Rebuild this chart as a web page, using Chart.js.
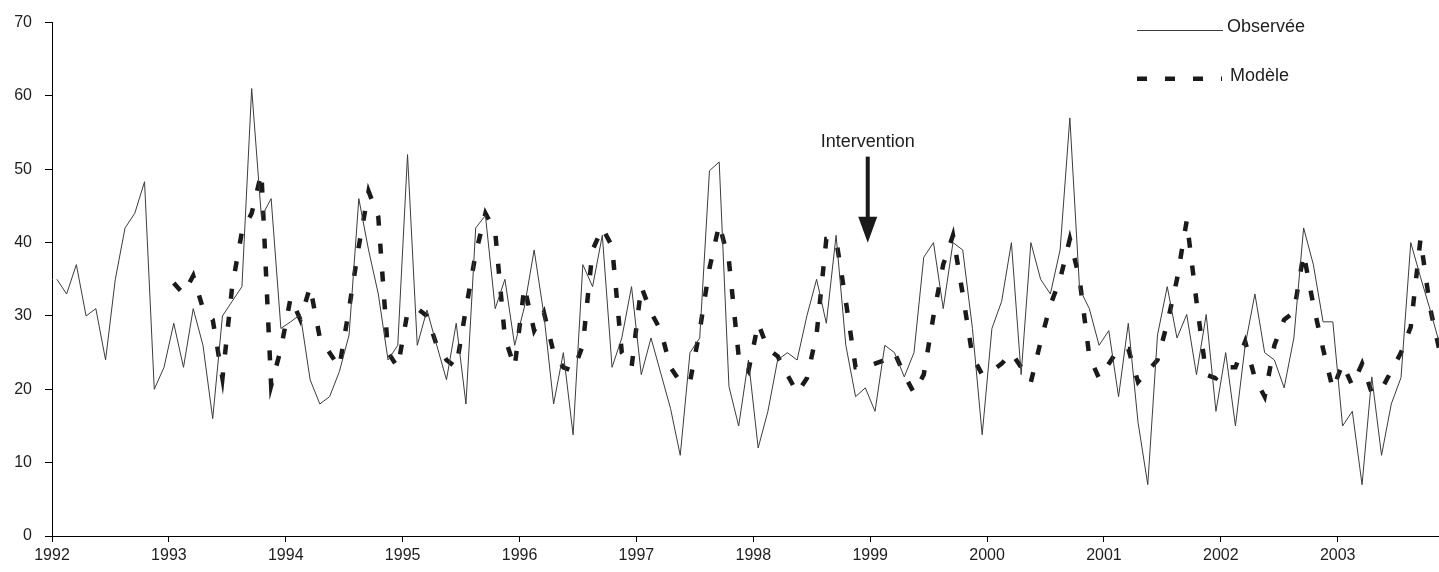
<!DOCTYPE html>
<html>
<head>
<meta charset="utf-8">
<script src="https://cdn.jsdelivr.net/npm/chart.js@4"></script>
<style>
  html, body { margin: 0; padding: 0; background: #ffffff; }
  #wrap { width: 1439px; height: 572px; position: relative; }
</style>
</head>
<body>
<div id="wrap"><canvas id="c" width="1439" height="572"></canvas></div>
<script>
// ---- Data (monthly, Jan 1992 onward) ----
const yearLabels = ['1992','1993','1994','1995','1996','1997','1998','1999','2000','2001','2002','2003'];
const yTickValues = [0, 10, 20, 30, 40, 50, 60, 70];
const observedLabel = 'Observée';
const modelLabel = 'Modèle';

// Observed series, starting January 1992
const observed = [
  35, 33, 37, 30, 31, 24, 35, 42, 44, 48.3, 20, 23,           // 1992
  29, 23, 31, 26, 16, 30, 32, 34, 61, 43.5, 46, 28.3,         // 1993
  29.2, 30.2, 21.3, 18, 19, 22.4, 27.4, 46, 39, 33, 24, 26,   // 1994
  52, 26, 30.8, 26, 21.3, 29, 18, 42, 43.7, 31, 35, 26,       // 1995
  31.2, 39, 30.2, 18, 25, 13.8, 37, 34, 41, 23, 27, 34,       // 1996
  22, 27, 22.2, 17.4, 11, 25, 27, 49.8, 51, 20.4, 15, 24,     // 1997
  12, 17, 24, 25, 24, 30, 35, 29, 41, 26, 19, 20.2,           // 1998
  17, 26, 25, 21.7, 25, 38, 40, 31, 40, 39, 28.3, 13.8,       // 1999
  28.3, 32, 40, 22, 40, 35, 33, 39, 57, 33.7, 31, 26,         // 2000
  28, 19, 29, 15.5, 7, 27.4, 34, 27, 30.2, 22, 30.2, 17,      // 2001
  25, 15, 26, 33, 25, 24, 20.2, 27, 42, 37, 29.2, 29.2,       // 2002
  15, 17, 7, 21.7, 11, 18, 21.6, 40, 35.3, 30.8, 26           // 2003
];

// Model series, starting January 1993
const modelStartMonth = 12;
const model = [
  34.5, 33, 35.5, 31, 29.5, 21.5, 34, 41.5, 44, 49.5, 20.5, 25.5,   // 1993
  32.5, 29.5, 34, 27, 25, 23, 31, 39.5, 47, 43.5, 25, 23,           // 1994
  30.5, 31, 30, 26, 24, 23, 31, 38.5, 44, 41.5, 27, 23,             // 1995
  34, 28, 30.5, 25, 23, 22.5, 26, 39, 42, 39.5, 25, 23,             // 1996
  34, 30.5, 28, 23, 21, 21, 28, 36.5, 42.5, 37.5, 24.5, 22.5,       // 1997
  29, 25.5, 24.5, 22, 19.5, 21.5, 27.5, 40.5, 40.5, 32, 23, 23,     // 1998
  23.5, 24, 25, 22, 19.5, 22, 30, 37, 41, 33, 24.5, 22,             // 1999
  22.5, 23.5, 25, 23, 21, 26.5, 31.5, 35, 40.5, 35, 24.5, 21.5,     // 2000
  23.5, 25.5, 25.5, 21, 22.5, 24, 29, 35, 43, 32, 22, 21.5,         // 2001
  23, 23, 26.5, 21.5, 19, 26, 29.5, 30.5, 38.5, 31.5, 25.5, 20,     // 2002
  23.5, 20.5, 23.5, 19.5, 20, 22.5, 25, 28.5, 40.5, 31, 25          // 2003
];

const interventionMonth = 83.75;   // around the turn of 1998/1999
const interventionTipValue = 40;
const interventionText = 'Intervention';

// ---- Build library data from the arrays ----
const observedPoints = observed.map((v, i) => ({ x: i + 0.5, y: v }));
const modelPoints = model.map((v, i) => ({ x: modelStartMonth + i + 0.5, y: v }));

const FONT = "'Liberation Sans', Arial, Helvetica, sans-serif";
const TEXT = '#1e1e1e';

const overlayPlugin = {
  id: 'overlay',
  afterDatasetsDraw(chart) {
    const ctx = chart.ctx;
    const xs = chart.scales.x, ys = chart.scales.y;
    const dsObs = chart.data.datasets[0], dsMod = chart.data.datasets[1];

    // Legend
    ctx.save();
    ctx.font = '18px ' + FONT;
    ctx.fillStyle = TEXT;
    ctx.textBaseline = 'alphabetic';
    ctx.textAlign = 'left';
    ctx.beginPath();
    ctx.strokeStyle = dsObs.borderColor;
    ctx.lineWidth = dsObs.borderWidth;
    ctx.moveTo(1137, 30.5);
    ctx.lineTo(1223, 30.5);
    ctx.stroke();
    ctx.fillText(dsObs.label, 1227, 32);
    ctx.beginPath();
    ctx.strokeStyle = dsMod.borderColor;
    ctx.lineWidth = dsMod.borderWidth;
    ctx.setLineDash(dsMod.borderDash);
    ctx.moveTo(1137, 78.7);
    ctx.lineTo(1222, 78.7);
    ctx.stroke();
    ctx.setLineDash([]);
    ctx.fillText(dsMod.label, 1230, 81);

    // Intervention arrow
    const ax = xs.getPixelForValue(interventionMonth);
    const tipY = ys.getPixelForValue(interventionTipValue);
    const headH = 26, headW = 19, shaftLen = 60, shaftW = 4;
    ctx.fillStyle = '#1a1a1a';
    ctx.fillRect(ax - shaftW / 2, tipY - headH - shaftLen, shaftW, shaftLen + 1);
    ctx.beginPath();
    ctx.moveTo(ax - headW / 2, tipY - headH);
    ctx.lineTo(ax + headW / 2, tipY - headH);
    ctx.lineTo(ax, tipY);
    ctx.closePath();
    ctx.fill();
    ctx.fillStyle = TEXT;
    ctx.textAlign = 'center';
    ctx.fillText(interventionText, ax, tipY - headH - shaftLen - 10);
    ctx.restore();
  }
};

new Chart(document.getElementById('c'), {
  type: 'line',
  data: {
    datasets: [
      {
        label: observedLabel,
        data: observedPoints,
        borderColor: '#3c3c3c',
        borderWidth: 1,
        pointRadius: 0,
        tension: 0,
        fill: false
      },
      {
        label: modelLabel,
        data: modelPoints,
        borderColor: '#1a1a1a',
        borderWidth: 4.5,
        borderDash: [10, 18],
        borderCapStyle: 'butt',
        pointRadius: 0,
        tension: 0,
        fill: false
      }
    ]
  },
  options: {
    responsive: false,
    devicePixelRatio: 1,
    animation: false,
    events: [],
    layout: { padding: { top: 18, right: 0, bottom: 0, left: 0 } },
    plugins: { legend: { display: false }, tooltip: { enabled: false } },
    scales: {
      x: {
        type: 'linear',
        min: 0,
        max: 142.4,
        afterBuildTicks(scale) {
          scale.ticks = yearLabels.map((_, k) => ({ value: k * 12 }));
        },
        afterFit(scale) { scale.height = 36; },
        ticks: {
          autoSkip: false,
          maxRotation: 0,
          padding: 4,
          color: TEXT,
          font: { family: FONT, size: 16 },
          callback: (v) => yearLabels[Math.round(v / 12)]
        },
        grid: { display: true, drawOnChartArea: false, drawTicks: true, tickLength: 6, color: '#000', lineWidth: 1 },
        border: { display: true, color: '#000', width: 1 }
      },
      y: {
        type: 'linear',
        min: 0,
        max: 70,
        afterBuildTicks(scale) {
          scale.ticks = yTickValues.map(v => ({ value: v }));
        },
        afterFit(scale) { scale.width = 52; },
        ticks: {
          padding: 13,
          color: TEXT,
          font: { family: FONT, size: 16 }
        },
        grid: { display: true, drawOnChartArea: false, drawTicks: true, tickLength: 7, color: '#000', lineWidth: 1 },
        border: { display: true, color: '#000', width: 1 }
      }
    }
  },
  plugins: [overlayPlugin]
});
</script>
</body>
</html>
